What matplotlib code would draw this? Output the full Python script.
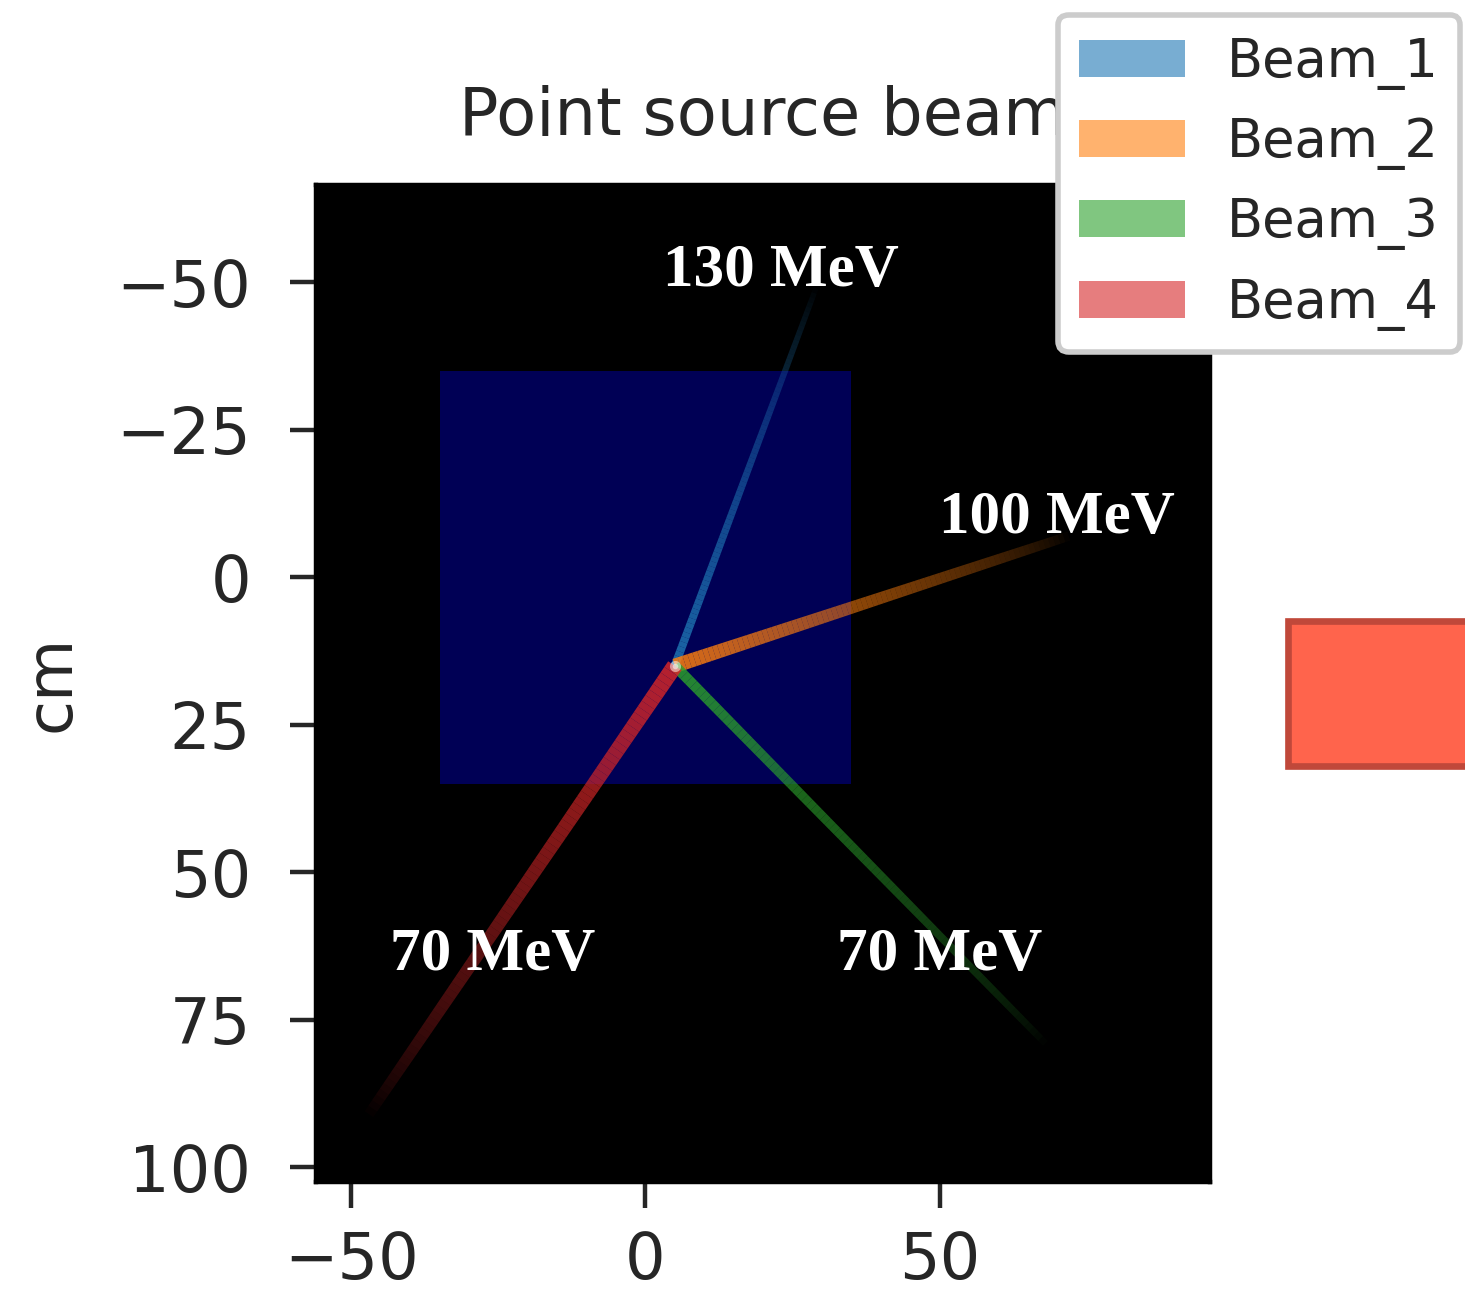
import matplotlib
matplotlib.use("Agg")
import matplotlib.pyplot as plt
import numpy as np
from matplotlib.collections import LineCollection
from matplotlib.patches import Patch, Rectangle

# beam data (cm)
beam_names = ["Beam_1", "Beam_2", "Beam_3", "Beam_4"]
beam_energies = ["130 MeV", "100 MeV", "70 MeV", "70 MeV"]
source_x = 5
source_y = 15
beam_end_x = [29, 72, 68, -47]
beam_end_y = [-49, -7, 79, 91]
label_x = [23, 70, 50, -26]
label_y = [-52, -10, 64, 64]

# target block
target_x = [-35, 35]
target_y = [-35, 35]

beam_colors = ["#1f77b4", "#ff7f0e", "#2ca02c", "#d62728"]
beam_widths = [1.5, 2.6, 1.9, 2.9]
text_color = "#262626"

fig = plt.figure(figsize=(3.6625, 3.2275), dpi=400)
ax = fig.add_axes([0.2157, 0.0844, 0.6103, 0.7723])
ax.set_facecolor("black")

ax.add_patch(Rectangle((target_x[0], target_y[0]),
                       target_x[1] - target_x[0],
                       target_y[1] - target_y[0],
                       facecolor="#000055", edgecolor="none", zorder=1))

n = 80
for i in range(len(beam_names)):
    t = np.linspace(0, 1, n + 1)
    xs = source_x + (beam_end_x[i] - source_x) * t
    ys = source_y + (beam_end_y[i] - source_y) * t
    segs = [[(xs[k], ys[k]), (xs[k + 1], ys[k + 1])] for k in range(n)]
    tm = (t[:-1] + t[1:]) / 2
    rgba = np.array([matplotlib.colors.to_rgba(beam_colors[i])] * n)
    rgba[:, 3] = 0.85 * (1 - tm) ** 0.7
    lw = beam_widths[i] * (1 - 0.35 * tm)
    lc = LineCollection(segs, colors=rgba, linewidths=lw,
                        capstyle="butt", zorder=2)
    ax.add_collection(lc)
    ax.text(label_x[i], label_y[i], beam_energies[i], color="white",
            fontsize=11, family="Liberation Serif", fontweight="bold",
            ha="center", va="center", zorder=3)

ax.plot(source_x, source_y, "o", color="white", ms=1.0, alpha=0.5, zorder=3)

ax.set_xlim(-56, 96)
ax.set_ylim(102.5, -66.5)
ax.set_xticks([-50, 0, 50])
ax.set_yticks([-50, -25, 0, 25, 50, 75, 100])
ax.tick_params(labelsize=11.5, length=4.7, colors=text_color)
ax.tick_params(axis="y", pad=7)
ax.tick_params(axis="x", pad=4)
ax.set_ylabel("cm", fontsize=11.5, color=text_color, labelpad=6)
ax.set_title("Point source beam", fontsize=11.8, color=text_color, pad=9)

handles = [Patch(facecolor=c, alpha=0.6, edgecolor="none") for c in beam_colors]
leg = ax.legend(handles, beam_names, loc="upper left", borderaxespad=0,
                bbox_to_anchor=(0.83, 1.171), fontsize=9.5, framealpha=1.0)
for txt in leg.get_texts():
    txt.set_color(text_color)

fig.add_artist(Rectangle((0.879, 0.407), 0.13, 0.112,
                         transform=fig.transFigure, facecolor="#ff644c",
                         edgecolor="#c0483a", linewidth=1.2, zorder=5))

fig.savefig("out.png", dpi=400)
